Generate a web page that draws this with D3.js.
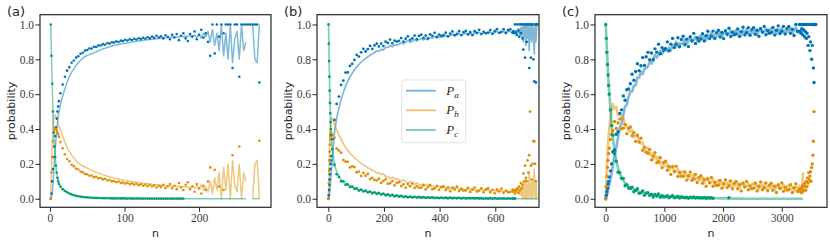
<!DOCTYPE html>
<html>
<head>
<meta charset="utf-8">
<script src="https://cdn.jsdelivr.net/npm/d3@7"></script>
<style>
  body { margin: 0; background: #fff; }
</style>
</head>
<body>
<div id="chart"></div>
<script>
// ---- panel (a): n values and series (dots = darker points, line = lighter curve)
var nA = d3.range(1, 13).concat(d3.range(14, 282, 3));

var aPaDot = [0, .03, .1, .17, .24, .3, .36, .41, .46, .5, .53, .56,
  .605, .655, .70, .735, .755, .78, .793, .81, .818, .832,
  .838, .85, .853, .862, .862, .872, .871, .88, .879, .887,
  .884, .893, .89, .898, .896, .903, .899, .907, .905, .912,
  .908, .915, .911, .918, .913, .921, .916, .924, .918, .927,
  .92, .93, .923, .935, .925, .932, .92, .938, .928, .915,
  .94, .925, .945, .91, .935, .95, .92, .905, .945, .93,
  .96, .915, .94, .97, .925, .95, .9, .82, 1, .834,
  1, .93, 1, .95, 1, 1, 1, .75, 1, 1,
  .70, 1, 1, 1, 1, 1, 1, 1, 1, .667];
var aPbDot = [0, .15, .24, .33, .38, .40, .40, .40, .39, .38, .37, .355,
  .325, .29, .255, .228, .215, .195, .187, .173, .168, .156,
  .152, .142, .14, .132, .133, .124, .126, .117, .119, .111,
  .114, .105, .108, .1, .102, .095, .099, .091, .093, .087,
  .091, .084, .088, .081, .086, .078, .083, .075, .081, .072,
  .08, .07, .077, .065, .075, .068, .08, .062, .072, .085,
  .06, .075, .055, .09, .065, .05, .08, .095, .055, .07,
  .04, .085, .06, .03, .075, .05, .1, .18, null, .166,
  null, .07, null, .05, null, null, null, .25, null, null,
  .30, null, null, null, null, null, null, null, null, .333];
var aPcDot = [1, .82, .66, .5, .38, .3, .24, .19, .15, .12, .1, .085,
  .07, .055, .045, .037, .03, .025, .02, .017, .014, .012,
  .01, .009, .008, .007, .006, .005, .005, .004, .004, .003,
  .003, .003, .003, .002, .002, .002, .002, .002, .002, .002,
  .001, .002, .001, .001, .002, .001, .001, .001, .001, .001,
  .001, .001, .001, .001, .001, .001, .001, .001, .001, .001,
  .001, .001, .001, .001, .001, .001];
var aPaLine = [0, .01, .03, .08, .15, .22, .28, .34, .39, .43, .47, .50,
  .54, .59, .63, .67, .70, .725, .745, .765, .78, .795,
  .807, .816, .822, .827, .832, .837, .843, .849, .854, .859,
  .864, .868, .872, .876, .879, .882, .885, .888, .891, .893,
  .895, .897, .899, .901, .903, .905, .907, .909, .911, .912,
  .914, .915, .917, .918, .92, .921, .922, .923, .925, .925,
  .927, .926, .93, .928, .932, .929, .934, .93, .936, .928,
  .94, .925, .945, .92, .95, .93, .96, .9, .97, .88,
  .95, .85, 1, .82, .95, .8, 1, .78, .92, .96,
  .8, 1, .85, .9, null, null, 1, .8, .78, 1];
var aPbLine = [0, .17, .31, .42, .47, .48, .48, .47, .46, .45, .43, .415,
  .40, .36, .325, .295, .27, .25, .235, .218, .206, .195,
  .188, .182, .176, .17, .164, .158, .152, .147, .142, .137,
  .133, .129, .125, .122, .119, .116, .113, .11, .107, .105,
  .103, .101, .099, .097, .095, .093, .091, .089, .087, .086,
  .084, .083, .081, .08, .078, .077, .076, .075, .074, .074,
  .072, .073, .07, .072, .068, .071, .066, .07, .064, .072,
  .06, .075, .055, .08, .05, .07, .04, .1, .03, .12,
  .05, .15, 0, .18, .05, .2, 0, .22, .08, .04,
  .2, 0, .15, .1, null, null, 0, .2, .22, 0];
var aPcLine = [1, .82, .66, .5, .38, .3, .24, .19, .15, .12, .1, .085,
  .07, .055, .045, .037, .03, .025, .02, .017, .014, .012,
  .01, .009, .008, .007, .006, .005, .005, .004, .004, .003,
  .003, .003, .003, .002, .002, .002, .002, .002, .002, .002,
  .001, .001, .001, .001, .001, .001, .001, .001, .001, .001,
  0, 0, 0, 0, 0, 0, 0, 0, 0, 0,
  0, 0, 0, 0, 0, 0, 0, 0, 0, 0,
  0, 0, 0, 0, 0, 0, 0, 0, 0, 0,
  0, 0, 0, 0, 0, 0, 0, 0, 0, 0,
  0, 0, 0, 0, null, null, 0, 0, 0, 0];

// ---- panel (b)
var nB = d3.range(1, 11).concat(d3.range(14, 663, 8), d3.range(665, 753, 3));

var bPaDot = [0, .02, .05, .08, .11, .14, .17, .2, .22, .245,
  .342, .452, .544, .586, .653, .678, .724, .725, .762, .774,
  .796, .825, .816, .84, .86, .845, .858, .877, .86, .88,
  .89, .874, .89, .876, .901, .894, .913, .892, .907, .902,
  .906, .922, .902, .918, .932, .912, .92, .936, .916, .934,
  .941, .923, .936, .92, .943, .935, .952, .929, .942, .935,
  .938, .953, .932, .947, .96, .939, .946, .961, .939, .956,
  .963, .943, .956, .939, .961, .952, .969, .945, .958, .95,
  .953, .968, .946, .961, .973, .952, .958, .972, .951, .967,
  .972, .952,
  .962, .95, 1, .955, .94, 1, .965, .93, 1, .95,
  1, .92, .856, 1, .81, 1, .9, 1, 1, .75,
  1, .81, 1, 1, .8, .673, 1, .667, 1, 1];
var bPbDot = [0, .09, .16, .22, .27, .31, .34, .36, .37, .38,
  .366, .35, .288, .277, .264, .222, .213, .212, .18, .186,
  .182, .152, .156, .131, .148, .132, .142, .113, .12, .108,
  .106, .116, .091, .102, .111, .086, .089, .101, .077, .091,
  .095, .073, .083, .063, .084, .072, .087, .062, .072, .063,
  .064, .077, .054, .067, .078, .055, .06, .073, .051, .066,
  .071, .05, .061, .043, .064, .053, .069, .044, .055, .047,
  .048, .062, .039, .052, .064, .041, .047, .06, .038, .053,
  .059, .038, .05, .031, .053, .042, .058, .034, .045, .037,
  .039, .052,
  .04, .05, .03, .045, .055, .06, .035, .07, .05, .09,
  .06, .08, .144, .1, .19, .12, .1, .22, .15, .25,
  .5, .19, .11, .2, .33, .33, .2, .1];
var bPcDot = [1, .89, .79, .70, .62, .55, .49, .44, .40, .365,
  .285, .195, .14, .125, .1, .1, .08, .082, .067, .069,
  .057, .059, .047, .052, .042, .046, .037, .041, .032, .037,
  .028, .033, .024, .029, .02, .025, .017, .022, .014, .019,
  .012, .016, .01, .014, .008, .012, .007, .011, .006, .01,
  .006, .009, .005, .008, .005, .008, .004, .007, .004, .007,
  .004, .006, .003, .006, .003, .005, .003, .005, .002, .005,
  .002, .004, .002, .004, .002, .004, .002, .003, .001, .003,
  .001, .003, .001, .003, .001, .002, .001, .002, .001, .002,
  .001, .002,
  .001, .002, .001];
var bPaLine = [0, .005, .015, .03, .045, .06, .08, .1, .12, .14,
  .22, .38, .46, .52, .57, .61, .645, .675, .70, .72,
  .74, .755, .77, .785, .795, .805, .815, .823, .83, .837,
  .849, .845, .857, .853, .869, .868, .88, .872, .882, .882,
  .886, .896, .888, .898, .907, .898, .904, .913, .904, .914,
  .919, .911, .919, .912, .925, .922, .932, .922, .93, .927,
  .93, .938, .929, .937, .944, .934, .939, .947, .937, .946,
  .95, .941, .948, .94, .952, .947, .956, .945, .951, .948,
  .95, .957, .947, .954, .961, .95, .954, .961, .95, .959,
  .962, .952,
  .955, .96, .95, .965, .945, .97, .95, .975, .94, .98,
  .93, 1, .9, .98, 1, .88, 1, .92, 1, .85,
  .97, 1, .9, 1, .95, .83, 1, .9, 1, 1];
var bPbLine = [0, .1, .18, .25, .31, .36, .4, .43, .45, .46,
  .465, .43, .395, .365, .34, .315, .295, .277, .262, .248,
  .235, .224, .213, .203, .194, .186, .178, .171, .164, .158,
  .146, .15, .139, .143, .127, .128, .116, .124, .114, .114,
  .11, .1, .108, .098, .089, .098, .092, .083, .092, .082,
  .077, .085, .077, .084, .071, .075, .065, .076, .068, .071,
  .069, .06, .07, .062, .055, .065, .061, .053, .063, .054,
  .05, .059, .052, .06, .049, .053, .044, .056, .049, .052,
  .051, .043, .054, .046, .04, .05, .047, .039, .05, .042,
  .038, .047,
  .045, .04, .05, .035, .055, .03, .05, .025, .06, .02,
  .07, 0, .1, .02, 0, .12, 0, .08, 0, .15,
  .03, 0, .1, 0, .05, .17, 0, .1, 0, 0];
var bPcLine = [1, .9, .8, .71, .63, .56, .5, .45, .41, .37,
  .29, .2, .155, .13, .11, .098, .088, .08, .073, .067,
  .062, .057, .053, .049, .046, .043, .041, .038, .036, .034,
  .032, .03, .028, .026, .024, .022, .021, .019, .018, .016,
  .015, .014, .013, .012, .011, .01, .01, .009, .009, .008,
  .008, .007, .007, .006, .006, .006, .005, .005, .005, .004,
  .004, .004, .004, .003, .003, .003, .003, .003, .002, .002,
  .002, .002, .002, .002, .002, .001, .001, .001, .001, .001,
  .001, .001, .001, .001, .001, 0, 0, 0, 0, 0,
  0, 0,
  0, 0, 0, 0, 0, 0, 0, 0, 0, 0,
  0, 0, 0, 0, 0, 0, 0, 0, 0, 0,
  0, 0, 0, 0, 0, 0, 0, 0, 0, 0];

// ---- panel (c)
var nC = [0, 10, 20, 30, 40, 50, 60, 80, 100].concat(d3.range(120, 3301, 30), d3.range(3310, 3581, 10));

var cPaDot = [0, .02, .04, .06, .085, .1, .125, .16, .2,
  .27, .28, .37, .385, .49, .51, .59, .565, .625, .63,
  .66, .715, .68, .73, .775, .735, .763, .81, .765, .815,
  .84, .798, .836, .798, .86, .841, .887, .832, .867, .852,
  .861, .9, .849, .887, .92, .868, .886, .924, .872, .914,
  .932, .884, .916, .873, .93, .907, .949, .891, .923, .905,
  .917, .947, .905, .935, .961, .919, .933, .962, .92, .953,
  .967, .928, .954, .919, .964, .945, .978, .931, .956, .94,
  .945, .974, .931, .959, .984, .94, .953, .981, .938, .97,
  .982, .943, .967, .932, .976, .957, .989, .941, .966, .95,
  .954, .983, .939, .967, .992, .948, .961, .989, .945, .977,
  .989, .949, .973, .937, 1, .961, 1,
  .96, 1, .95, .975, 1, .94, .97, 1, .93, .96,
  1, .92, .95, 1, .88, .93, 1, .85, .9, 1,
  .8, .88, 1, .75, .667, 1, 1, 1];
var cPbDot = [0, .07, .13, .18, .22, .26, .29, .34, .37,
  .391, .443, .403, .435, .457, .402, .405, .427, .373, .404,
  .412, .362, .379, .329, .363, .326, .347, .278, .295, .267,
  .261, .283, .223, .245, .264, .206, .212, .235, .178, .208,
  .215, .164, .185, .139, .183, .156, .187, .128, .151, .129,
  .13, .154, .107, .132, .153, .106, .115, .14, .093, .122,
  .132, .089, .111, .072, .114, .092, .122, .072, .094, .076,
  .079, .105, .06, .086, .109, .064, .075, .102, .057, .088,
  .099, .058, .082, .045, .088, .068, .099, .051, .074, .058,
  .061, .089, .045, .072, .096, .052, .063, .09, .046, .078,
  .089, .049, .072, .036, .079, .06, .09, .043, .066, .05,
  .052, .08, .035, .063, .086, .042, .053,
  .05, .04, .06, .035, .07, .05, .08, .045, .07, .09,
  .05, .1, .07, .12, .09, .15, .11, .13, .155, .1,
  .18, .2, .25, .33, .5];
var cPcDot = [1, .92, .84, .77, .71, .65, .6, .51, .42,
  .365, .26, .215, .152, .15, .117, .117, .075, .08, .062,
  .059, .067, .04, .049, .057, .031, .034, .045, .02, .034,
  .035, .018, .025, .01, .025, .016, .027, .008, .017, .01,
  .011, .017, .006, .012, .018, .006, .009, .015, .004, .012,
  .008, .005, .009, .003, .009, .006, .01, .004, .007, .005,
  .006, .004, .007, .003, .006, .004, .006, .003, null, null,
  null, null, null, null, null, null, .006];
var cPaLine = [0, .01, .02, .035, .05, .065, .08, .11, .14,
  .185, .25, .29, .35, .41, .43, .48, .53, .54, .585,
  .615, .615, .65, .65, .695, .695, .73, .715, .745, .75,
  .76, .785, .775, .8, .825, .81, .826, .848, .83, .855,
  .865, .846, .867, .85, .882, .875, .9, .874, .893, .887,
  .892, .913, .888, .908, .927, .901, .911, .93, .905, .927,
  .938, .916, .933, .912, .942, .931, .954, .924, .942, .932,
  .937, .956, .93, .948, .965, .938, .947, .965, .939, .959,
  .967, .943, .96, .937, .966, .951, .974, .944, .96, .95,
  .952, .97, .944, .962, .978, .951, .958, .976, .949, .969,
  .977, .952, .967, .945, .973, .96, .981, .951, .966, .957,
  .96, .977, .95, .967, .982, .955, .962,
  .95, .965, .955, .97, .96, .955];
var cPbLine = [0, .1, .18, .25, .31, .36, .4, .46, .5,
  .543, .518, .526, .479, .492, .457, .466, .415, .418, .391,
  .384, .395, .352, .363, .369, .323, .317, .323, .28, .294,
  .293, .253, .261, .224, .248, .225, .241, .197, .208, .189,
  .186, .201, .162, .177, .19, .152, .156, .172, .135, .155,
  .157, .128, .14, .115, .139, .124, .141, .108, .12, .107,
  .107, .122, .092, .107, .12, .09, .096, .111, .082, .1,
  .106, .079, .093, .069, .095, .082, .101, .07, .084, .073,
  .074, .09, .063, .079, .094, .066, .073, .089, .062, .081,
  .088, .063, .077, .054, .081, .068, .088, .058, .071, .061,
  .063, .08, .052, .069, .083, .056, .063, .079, .052, .072,
  .078, .052, .065, .044, .07, .058, .074,
  .05, .04, .06, .045, .055, .15];
var cPcLine = [1, .93, .86, .79, .72, .66, .61, .52, .43,
  .36, .28, .22, .175, .145, .122, .104, .09, .08, .072,
  .065, .059, .053, .048, .044, .04, .037, .034, .031, .029,
  .027, .025, .023, .021, .02, .019, .018, .017, .016, .015,
  .014, .013, .012, .011, .011, .01, .01, .009, .009, .008,
  .008, .007, .007, .007, .006, .006, .006, .005, .005, .005,
  .005, .004, .004, .004, .004, .003, .003, .003, .003, .003,
  .003, .002, .002, .002, .002, .002, .002, .002, .001, .001,
  .001, .001, .001, .001, .001, 0, 0, 0, 0, 0,
  0, 0, 0, 0, 0, 0, 0, 0, 0, 0,
  0, 0, 0, 0, 0, 0, 0, 0, 0, 0,
  0, 0, 0, 0, 0, 0, 0,
  0, 0, 0, 0, 0, 0];

// tick labels
var yTicks = [0, 0.2, 0.4, 0.6, 0.8, 1.0];
var xTicksA = [0, 100, 200];
var xTicksB = [0, 200, 400, 600];
var xTicksC = [0, 1000, 2000, 3000];
var legendSubs = ["a", "b", "c"];

var colorA = "#0173b2", colorB = "#de8f05", colorC = "#029e73";

var plotTop = 14.7, plotBottom = 207.3;
var svg = d3.select("#chart").append("svg")
    .attr("width", 830)
    .attr("height", 244)
    .style("background", "#fff");

var y = d3.scaleLinear()
    .domain([-0.049, 1.056])
    .range([plotBottom, plotTop]);

var panels = [
    { label: "(a)", left: 40, right: 271, xDomain: [-13.4, 296.6], xTicks: xTicksA, n: nA,
      dotR: 1.3, lineW: 1.5,
      series: [
        { color: colorA, dots: aPaDot, line: aPaLine },
        { color: colorB, dots: aPbDot, line: aPbLine },
        { color: colorC, dots: aPcDot, line: aPcLine }] },
    { label: "(b)", left: 317, right: 539, xDomain: [-40.6, 757.1], xTicks: xTicksB, n: nB,
      dotR: 1.4, lineW: 1.7,
      series: [
        { color: colorA, dots: bPaDot, line: bPaLine },
        { color: colorB, dots: bPbDot, line: bPbLine },
        { color: colorC, dots: bPcDot, line: bPcLine }] },
    { label: "(c)", left: 595, right: 827, xDomain: [-182.4, 3771], xTicks: xTicksC, n: nC,
      dotR: 1.7, lineW: 2.6,
      series: [
        { color: colorA, dots: cPaDot, line: cPaLine },
        { color: colorB, dots: cPbDot, line: cPbLine },
        { color: colorC, dots: cPcDot, line: cPcLine }] }
];

panels.forEach(function (p) {
    var x = d3.scaleLinear().domain(p.xDomain).range([p.left, p.right]);
    var g = svg.append("g");

    // lighter curves
    p.series.forEach(function (s) {
        var pts = s.line.map(function (v, i) { return [p.n[i], v]; });
        g.append("path")
            .datum(pts)
            .attr("fill", "none")
            .attr("stroke", s.color)
            .attr("stroke-opacity", 0.5)
            .attr("stroke-width", p.lineW)
            .attr("stroke-linejoin", "round")
            .attr("d", d3.line()
                .defined(function (d) { return d[1] != null; })
                .x(function (d) { return x(d[0]); })
                .y(function (d) { return y(d[1]); }));
    });

    // darker points
    p.series.forEach(function (s) {
        var pts = s.dots.map(function (v, i) { return [p.n[i], v]; })
            .filter(function (d) { return d[1] != null; });
        g.selectAll(null)
            .data(pts)
            .enter().append("circle")
            .attr("cx", function (d) { return x(d[0]); })
            .attr("cy", function (d) { return y(d[1]); })
            .attr("r", p.dotR)
            .attr("fill", s.color);
    });

    // x axis
    var xa = g.append("g")
        .attr("transform", "translate(0," + plotBottom + ")")
        .call(d3.axisBottom(x).tickValues(p.xTicks).tickFormat(d3.format("d"))
            .tickSize(4.5).tickPadding(2));
    // y axis
    var ya = g.append("g")
        .attr("transform", "translate(" + p.left + ",0)")
        .call(d3.axisLeft(y).tickValues(yTicks).tickFormat(d3.format(".1f"))
            .tickSize(4.5).tickPadding(1.5));
    [xa, ya].forEach(function (a) {
        a.select(".domain").remove();
        a.selectAll(".tick line").attr("stroke", "#262626").attr("stroke-width", 1);
        a.selectAll(".tick text")
            .attr("fill", "#3a3a3a")
            .style("font-family", "'Liberation Serif', serif")
            .style("font-size", "11.5px");
    });

    // frame
    g.append("rect")
        .attr("x", p.left)
        .attr("y", plotTop)
        .attr("width", p.right - p.left)
        .attr("height", plotBottom - plotTop)
        .attr("fill", "none")
        .attr("stroke", "#262626")
        .attr("stroke-width", 1.2);

    // axis labels
    g.append("text")
        .attr("x", (p.left + p.right) / 2)
        .attr("y", 237)
        .attr("text-anchor", "middle")
        .style("font-family", "'DejaVu Sans', sans-serif")
        .style("font-size", "11px")
        .attr("fill", "#262626")
        .text("n");
    g.append("text")
        .attr("transform", "translate(" + (p.left - 25) + "," + ((plotTop + plotBottom) / 2) + ") rotate(-90)")
        .attr("text-anchor", "middle")
        .style("font-family", "'DejaVu Sans', sans-serif")
        .style("font-size", "11px")
        .attr("fill", "#262626")
        .text("probability");

    // panel label
    g.append("text")
        .attr("x", p.left - 33)
        .attr("y", 16)
        .style("font-family", "'DejaVu Sans', sans-serif")
        .style("font-size", "13px")
        .attr("fill", "#262626")
        .text(p.label);
});

// legend (inside panel b)
var lg = svg.append("g").attr("transform", "translate(401.7,80)");
lg.append("rect")
    .attr("width", 64)
    .attr("height", 62.7)
    .attr("rx", 2.5)
    .attr("fill", "#fff")
    .attr("fill-opacity", 0.8)
    .attr("stroke", "#d9d9d9")
    .attr("stroke-width", 0.8);
[colorA, colorB, colorC].forEach(function (c, i) {
    var yy = 10.7 + i * 19.65;
    lg.append("line")
        .attr("x1", 4.3).attr("x2", 34)
        .attr("y1", yy).attr("y2", yy)
        .attr("stroke", c)
        .attr("stroke-opacity", 0.55)
        .attr("stroke-width", 1.8);
    var t = lg.append("text")
        .attr("x", 44.5)
        .attr("y", yy + 4)
        .style("font-family", "'Liberation Serif', serif")
        .style("font-size", "13px")
        .style("font-style", "italic")
        .attr("fill", "#262626");
    t.append("tspan").text("P");
    t.append("tspan").attr("dy", 3).style("font-size", "9px").text(legendSubs[i]);
});
</script>
</body>
</html>
